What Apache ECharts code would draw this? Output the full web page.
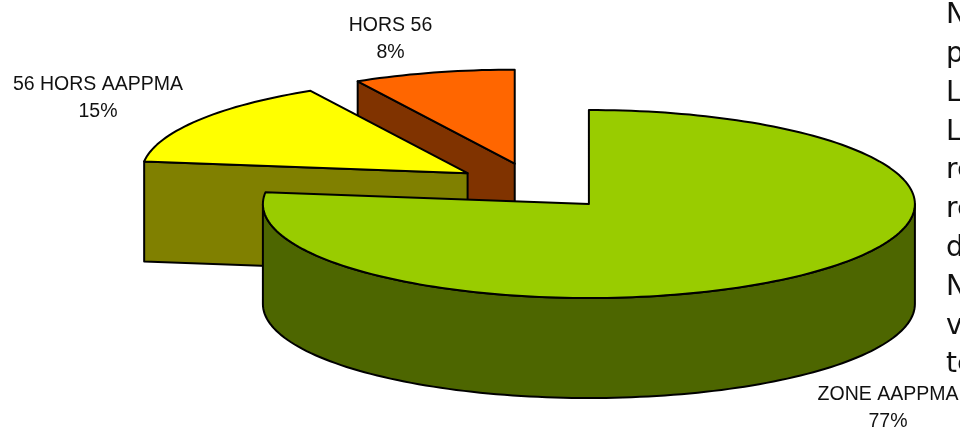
<!DOCTYPE html>
<html>
<head>
<meta charset="utf-8">
<style>html,body{margin:0;padding:0;background:#fff;overflow:hidden}#c{width:960px;height:428px}</style>
<script src="https://cdn.jsdelivr.net/npm/echarts@6/dist/echarts.min.js"></script>
</head>
<body>
<div id="c"></div>
<script>
const categories = ['ZONE AAPPMA', '56 HORS AAPPMA', 'HORS 56'];
const shares = [77, 15, 8];
const topColors = ['#99CC00', '#FFFF00', '#FF6600'];
const sideColors = ['#4D6600', '#808000', '#803300'];
const labelCentres = [[888, 393], [98, 83], [390.5, 24]];
const sideTextLines = ['N', 'p', 'L', 'L', 're', 're', 'd', 'N', 'v', 'te'];

const pieCentre = [535, 186.4], radiusX = 326, radiusY = 94, depth = 100, explode = 0.25;
const total = shares.reduce((a, b) => a + b, 0);
const rad = d => d * Math.PI / 180;

function arcPoints(cx, cy, a0, a1, dy) {
  const pts = [], n = Math.max(2, Math.ceil(Math.abs(a1 - a0) / 1.5));
  for (let i = 0; i <= n; i++) {
    const a = rad(a0 + (a1 - a0) * i / n);
    pts.push([cx + radiusX * Math.sin(a), cy - radiusY * Math.cos(a) + dy]);
  }
  return pts;
}
const strokeStyle = (fill) => ({ fill, stroke: '#000', lineWidth: 2, lineJoin: 'round' });

function renderSlice(params, api) {
  const idx = api.value(0), share = api.value(1);
  let before = 0;
  for (let i = 0; i < idx; i++) before += shares[i];
  const a0 = before / total * 360, a1 = (before + share) / total * 360, mid = rad((a0 + a1) / 2);
  const cx = pieCentre[0] + explode * radiusX * Math.sin(mid);
  const cy = pieCentre[1] - explode * radiusY * Math.cos(mid);
  const children = [];
  const poly = (points, fill) => children.push({ type: 'polygon', shape: { points }, style: strokeStyle(fill) });
  const side = sideColors[idx];
  if (Math.sin(rad(a0)) < -1e-6) {
    const p = arcPoints(cx, cy, a0, a0, 0)[0];
    poly([[cx, cy], p, [p[0], p[1] + depth], [cx, cy + depth]], side);
  }
  const f0 = Math.max(a0, 90), f1 = Math.min(a1, 270);
  if (f1 > f0) {
    poly(arcPoints(cx, cy, f0, f1, 0).concat(arcPoints(cx, cy, f1, f0, depth)), side);
  }
  poly([[cx, cy]].concat(arcPoints(cx, cy, a0, a1, 0)), topColors[idx]);
  const lc = labelCentres[idx];
  children.push({
    type: 'text', silent: true,
    style: {
      text: categories[idx] + '\n' + share + '%', x: lc[0], y: lc[1] - 11.5,
      align: 'center', verticalAlign: 'top', fill: '#111',
      font: '19.5px "Liberation Sans"', lineHeight: 27
    }
  });
  return { type: 'group', children };
}

const drawOrder = categories.map((_, i) => i).reverse();
const sideGraphics = sideTextLines.map((t, i) => ({
  type: 'text', x: 946, y: 2 + i * 38.8,
  style: { text: t, font: '28px "DejaVu Sans"', fill: '#111' }
}));

const chart = echarts.init(document.getElementById('c'), null, { renderer: 'canvas' });
chart.setOption({
  animation: false,
  backgroundColor: '#fff',
  series: [{
    type: 'custom',
    coordinateSystem: 'none',
    renderItem: renderSlice,
    silent: true,
    data: drawOrder.map(i => [i, shares[i]])
  }],
  graphic: sideGraphics
});
</script>
</body>
</html>
